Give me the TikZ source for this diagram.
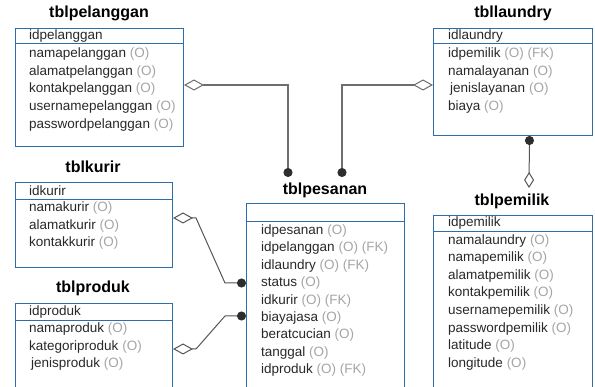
\documentclass[tikz,border=0pt]{standalone}
\usepackage{fontspec}
\setmainfont{Liberation Sans}
\usetikzlibrary{arrows.meta}

\definecolor{tblblue}{RGB}{46,108,170}
\definecolor{optgray}{RGB}{165,165,165}
\definecolor{fldgray}{RGB}{40,40,40}
\definecolor{relgray}{RGB}{110,110,110}
\definecolor{kurgray}{RGB}{85,85,85}
\definecolor{dotgray}{RGB}{45,45,45}

\newcommand{\opt}{\textcolor{optgray}{(O)}}
\newcommand{\fk}{\textcolor{optgray}{(FK)}}

\tikzset{
	tbl/.style={draw=tblblue, line width=1pt, anchor=north west, inner sep=0pt},
	tblsep/.style={draw=tblblue, line width=1pt},
	ttl/.style={font=\fontsize{16}{18}\selectfont\bfseries, text=black},
	fld/.style={anchor=west, inner sep=0pt, font=\fontsize{13.5}{16}\selectfont, text=fldgray},
	rel/.style={draw=relgray, line width=1.2pt,
		{Diamond[open, length=20pt, width=11pt, line width=1pt]}-{Circle[length=9pt, color=dotgray]}},
}

\begin{document}
\begin{tikzpicture}[x=1pt, y=-1pt]
	\clip (0,0) rectangle (595,387);

	% tables
	\node[tbl, minimum width=168pt, minimum height=118pt] (pelanggan) at (15,28) {};
	\node[tbl, minimum width=159pt, minimum height=107pt] (laundry) at (433,28) {};
	\node[tbl, minimum width=157pt, minimum height=85pt] (kurir) at (15,182) {};
	\node[tbl, minimum width=157pt, minimum height=110pt] (produk) at (15,303) {};
	\node[tbl, minimum width=158pt, minimum height=200pt] (pesanan) at (246,203) {};
	\node[tbl, minimum width=159pt, minimum height=190pt] (pemilik) at (433,215) {};

	\draw[tblsep] ([yshift=-16pt]pelanggan.north west) -- ([yshift=-16pt]pelanggan.north east);
	\draw[tblsep] ([yshift=-16pt]laundry.north west) -- ([yshift=-16pt]laundry.north east);
	\draw[tblsep] ([yshift=-18pt]kurir.north west) -- ([yshift=-18pt]kurir.north east);
	\draw[tblsep] ([yshift=-18pt]produk.north west) -- ([yshift=-18pt]produk.north east);
	\draw[tblsep] ([yshift=-19pt]pesanan.north west) -- ([yshift=-19pt]pesanan.north east);
	\draw[tblsep] ([yshift=-17pt]pemilik.north west) -- ([yshift=-17pt]pemilik.north east);

	% titles
	\node[ttl] (t-pelanggan) at (99,13) {tblpelanggan};
	\node[ttl] (t-laundry) at (513,13) {tbllaundry};
	\node[ttl] (t-kurir) at (93,167) {tblkurir};
	\node[ttl] (t-produk) at (93,288) {tblproduk};
	\node[ttl] (t-pesanan) at (325,190) {tblpesanan};
	\node[ttl] (t-pemilik) at (512,201) {tblpemilik};

	% fields
	\node[fld] (pel-0) at (29,36) {idpelanggan};
	\foreach \f [count=\i] in {namapelanggan \opt, alamatpelanggan \opt, kontakpelanggan \opt,
		usernamepelanggan \opt, passwordpelanggan \opt}
		\node[fld] (pel-\i) at (29,{36+17.8*\i}) {\f};

	\node[fld] (lau-0) at (448,36) {idlaundry};
	\foreach \f [count=\i] in {idpemilik \opt\ \fk, namalayanan \opt, \hspace{2pt}jenislayanan \opt, biaya \opt}
		\node[fld] (lau-\i) at (448,{36+17.8*\i}) {\f};

	\node[fld] (kur-0) at (29,191) {idkurir};
	\foreach \f [count=\i] in {namakurir \opt, alamatkurir \opt, kontakkurir \opt}
		\node[fld] (kur-\i) at (29,{191+17.5*\i}) {\f};

	\node[fld] (pro-0) at (29,312) {idproduk};
	\foreach \f [count=\i] in {namaproduk \opt, kategoriproduk \opt, \hspace{2pt}jenisproduk \opt}
		\node[fld] (pro-\i) at (29,{312+17.5*\i}) {\f};

	\foreach \f [count=\i from 0] in {idpesanan \opt, idpelanggan \opt\ \fk, idlaundry \opt\ \fk,
		status \opt, idkurir \opt\ \fk, biayajasa \opt, beratcucian \opt, tanggal \opt, idproduk \opt\ \fk}
		\node[fld] (pes-\i) at (261,{231+17.4*\i}) {\f};

	\node[fld] (pem-0) at (448,223) {idpemilik};
	\foreach \f [count=\i] in {namalaundry \opt, namapemilik \opt, alamatpemilik \opt, kontakpemilik \opt,
		usernamepemilik \opt, passwordpemilik \opt, latitude \opt, longitude \opt}
		\node[fld] (pem-\i) at (448,{223+17.6*\i}) {\f};

	% relations
	\coordinate (pes-a) at (288,177);
	\coordinate (pes-b) at (342,177);
	\coordinate (kbend) at (225,283);
	\coordinate (pbend) at (225,316);
	\coordinate (pem-a) at (529,188);

	\draw[rel] ([yshift=-57pt]pelanggan.north east) -| (pes-a);
	\draw[rel] ([yshift=-57pt]laundry.north west) -| (pes-b);
	\draw[rel, draw=kurgray, line width=1pt] ([yshift=-36pt]kurir.north east) -- ++(23,0) -- (kbend) -- (pesanan.west |- kbend);
	\draw[rel, draw=kurgray, line width=1pt] ([yshift=-46pt]produk.north east) -- ++(23,0) -- (pbend) -- (pesanan.west |- pbend);
	\draw[draw=kurgray, line width=1pt,
		{Circle[length=9pt, color=dotgray]}-{Diamond[open, length=16pt, width=10pt, line width=1pt]}]
		([xshift=16.5pt]laundry.south) -- (pem-a);
\end{tikzpicture}
\end{document}
